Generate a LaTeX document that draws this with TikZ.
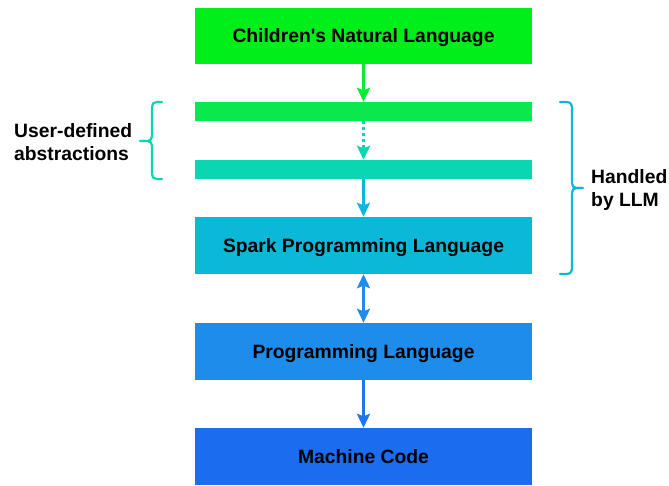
\documentclass[tikz,border=0pt]{standalone}
\usepackage{fontspec}
\newfontfamily\lsans{Liberation Sans}
\usetikzlibrary{arrows.meta}
\definecolor{ctop}{HTML}{00EE1A}
\definecolor{cgreen}{HTML}{0BE84C}
\definecolor{cteal}{HTML}{0AD6B2}
\definecolor{ccyan}{HTML}{0BB8D8}
\definecolor{cblue}{HTML}{1E8CEB}
\definecolor{cdblue}{HTML}{1C6CF0}
\tikzset{
  tip/.tip={Stealth[length=14pt,width=13pt,inset=2.5pt]},
  box/.style={rectangle, draw=none, minimum width=337pt, inner sep=0pt, text height=13.5pt, text depth=0pt, font=\lsans\fontsize{19.3pt}{23pt}\selectfont\bfseries},
  conn/.style={line width=2.6pt, -tip},
  side/.style={font=\lsans\fontsize{19.3pt}{23pt}\selectfont\bfseries, align=left, inner sep=0pt},
  brace/.style={line width=2.2pt, line cap=round}
}
\begin{document}
\begin{tikzpicture}[x=1pt,y=-1pt]
\useasboundingbox (0,0) rectangle (669,485);
\node[box, fill=ctop, minimum height=56pt] (top) at (363.5,35.5) {Children's Natural Language};
\node[box, fill=cgreen, minimum height=19pt] (bar1) at (363.5,111.5) {};
\node[box, fill=cteal, minimum height=19pt] (bar2) at (363.5,169.5) {};
\node[box, fill=ccyan, minimum height=57pt] (spark) at (363.5,245.5) {Spark Programming Language};
\node[box, fill=cblue, minimum height=57pt] (pl) at (363.5,351.5) {Programming Language};
\node[box, fill=cdblue, minimum height=57pt] (mc) at (363.5,456.5) {Machine Code};

\draw[conn, ctop!60!cgreen] (top.south) -- (bar1.north);
\draw[conn, cteal, dash pattern=on 3pt off 3pt] (bar1.south) -- (bar2.north);
\draw[conn, ccyan] (bar2.south) -- (spark.north);
\draw[conn, cblue, tip-tip] (spark.south) -- (pl.north);
\draw[conn, cdblue!70!cblue] (pl.south) -- (mc.north);

% left brace
\draw[brace, cteal] (162,102) .. controls (152,102) .. (152,112) -- (152,131) .. controls (152,141) .. (142,141) -- (140,141);
\draw[brace, cteal] (162,179) .. controls (152,179) .. (152,169) -- (152,151) .. controls (152,141) .. (142,141);
% right brace
\draw[brace, ccyan] (560,102) .. controls (572,102) .. (572,112) -- (572,178) .. controls (572,188) .. (582,188) -- (583,188);
\draw[brace, ccyan] (560,274) .. controls (572,274) .. (572,264) -- (572,198) .. controls (572,188) .. (582,188);

\node[side, anchor=west] (ud) at (14,142) {User-defined\\abstractions};
\node[side, anchor=west] (llm) at (591,190) {Handled\\by LLM};
\end{tikzpicture}
\end{document}
